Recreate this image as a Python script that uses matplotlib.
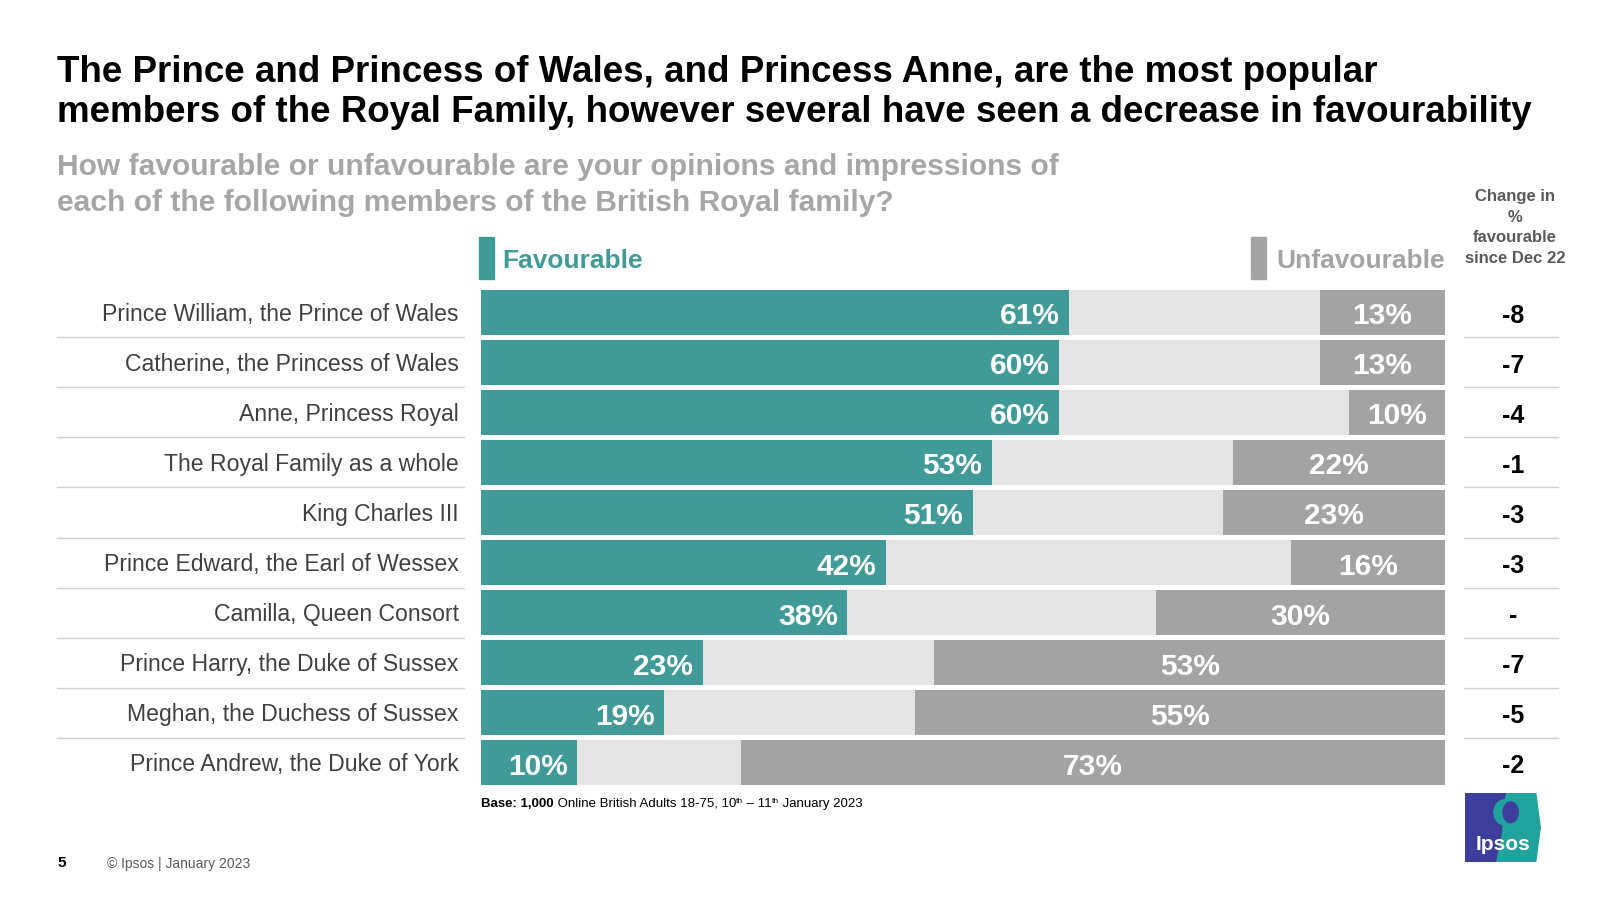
import numpy as np
import matplotlib
matplotlib.use('Agg')
import matplotlib.pyplot as plt
from matplotlib.patches import Rectangle, Polygon, Ellipse

plt.rcParams['font.family'] = ['Liberation Sans', 'DejaVu Sans']

names = ['Prince William, the Prince of Wales', 'Catherine, the Princess of Wales',
         'Anne, Princess Royal', 'The Royal Family as a whole', 'King Charles III',
         'Prince Edward, the Earl of Wessex', 'Camilla, Queen Consort',
         'Prince Harry, the Duke of Sussex', 'Meghan, the Duchess of Sussex',
         'Prince Andrew, the Duke of York']
favourable = [61, 60, 60, 53, 51, 42, 38, 23, 19, 10]
unfavourable = [13, 13, 10, 22, 23, 16, 30, 53, 55, 73]
change = ['-8', '-7', '-4', '-1', '-3', '-3', '-', '-7', '-5', '-2']

TEAL = '#409a98'
LIGHT = '#e4e4e4'
DARK = '#a3a3a3'
TXT = '#404040'

fig = plt.figure(figsize=(16, 9), dpi=100)
fig.patch.set_facecolor('white')

# title + question
fig.text(57/1600, 1-73/900, 'The Prince and Princess of Wales, and Princess Anne, are the most popular',
         fontsize=26.5, fontweight='bold', color='black', va='center')
fig.text(57/1600, 1-112/900, 'members of the Royal Family, however several have seen a decrease in favourability',
         fontsize=26.5, fontweight='bold', color='black', va='center')
fig.text(57/1600, 1-167/900, 'How favourable or unfavourable are your opinions and impressions of',
         fontsize=21.6, fontweight='bold', color='#a6a6a6', va='center')
fig.text(57/1600, 1-203/900, 'each of the following members of the British Royal family?',
         fontsize=21.6, fontweight='bold', color='#a6a6a6', va='center')

ax = fig.add_axes([481/1600, 1-788/900, 964/1600, 501/900])
ax.set_xlim(0, 100)
ax.set_ylim(9.5, -0.5)
ax.axis('off')

y = np.arange(len(names))
fav = np.array(favourable)
unf = np.array(unfavourable)
ax.barh(y, 100, height=0.9, color=LIGHT)
ax.barh(y, fav, height=0.9, color=TEAL)
ax.barh(y, unf, left=100-unf, height=0.9, color=DARK)

for i in range(len(names)):
    ax.text(fav[i]-1, i+0.08, f'{fav[i]}%', ha='right', va='center', color='white',
            fontsize=21.5, fontweight='bold')
    ax.text(100-unf[i]/2, i+0.08, f'{unf[i]}%', ha='center', va='center', color='white',
            fontsize=21.5, fontweight='bold')
    ax.text(-2.3, i+0.04, names[i], ha='right', va='center', color=TXT, fontsize=16.6, clip_on=False)
    ax.text(107.1, i+0.07, change[i], ha='center', va='center', color='black',
            fontsize=18, fontweight='bold', clip_on=False)
    if i < len(names)-1:
        ax.plot([-44.0, -1.8], [i+0.5, i+0.5], color='#d0d0d0', lw=1, clip_on=False)
        ax.plot([102.0, 111.7], [i+0.5, i+0.5], color='#d0d0d0', lw=1, clip_on=False)

# legend
fig.patches.append(Rectangle((479/1600, 1-279/900), 15/1600, 42/900, transform=fig.transFigure,
                             color=TEAL))
fig.text(502/1600, 1-261/900, 'Favourable', fontsize=19, fontweight='bold', color=TEAL, va='center')
fig.patches.append(Rectangle((1251/1600, 1-279/900), 15/1600, 42/900, transform=fig.transFigure,
                             color=DARK))
fig.text(1276/1600, 1-261/900, 'Unfavourable', fontsize=19, fontweight='bold', color=DARK, va='center')

for k, line in enumerate(['Change in', '%', 'favourable', 'since Dec 22']):
    fig.text(1515/1600, 1-(197+20.4*k)/900, line, fontsize=12, fontweight='bold',
             color='#595959', ha='center', va='center')

# footnote, pieces placed one after another on a common baseline
renderer = fig.canvas.get_renderer()
x0 = 481
base = 900-807
parts = [('Base: 1,000', 9.5, 'bold', 0), (' Online British Adults 18-75, 10', 9.5, 'normal', 0),
         ('th', 6, 'normal', 4), (' \u2013 11', 9.5, 'normal', 0), ('th', 6, 'normal', 4),
         (' January 2023', 9.5, 'normal', 0)]
for s, fs, fw, dy in parts:
    t = fig.text(x0/1600, (base+dy)/900, s, fontsize=fs, fontweight=fw, color='black',
                 va='baseline', ha='left')
    x0 += t.get_window_extent(renderer).width

fig.text(57/1600, 1-863/900, '5', fontsize=11, fontweight='bold', color='black', va='center')
fig.text(107/1600, 1-864/900, '\u00a9 Ipsos | January 2023', fontsize=10, color='#595959', va='center')

# Ipsos logo
lax = fig.add_axes([1465/1600, 1-862/900, 76/1600, 69/900])
lax.set_xlim(0, 1)
lax.set_ylim(0, 1)
lax.axis('off')
lax.add_patch(Rectangle((0, 0), 0.6, 1, color='#3d3d9c'))
lax.add_patch(Polygon([(0.42, 0), (0.93, 0), (0.99, 0.5), (0.93, 1), (0.55, 1), (0.5, 0.75),
                       (0.5, 0.45)], closed=True, color='#1fa39c'))
lax.add_patch(Ellipse((0.52, 0.72), 0.28, 0.36, color='#1fa39c'))
lax.add_patch(Ellipse((0.6, 0.72), 0.2, 0.3, color='#3d3d9c'))
lax.text(0.5, 0.25, 'Ipsos', color='white', fontsize=15, fontweight='bold', ha='center', va='center')

fig.savefig('out.png', dpi=100, facecolor='white')
